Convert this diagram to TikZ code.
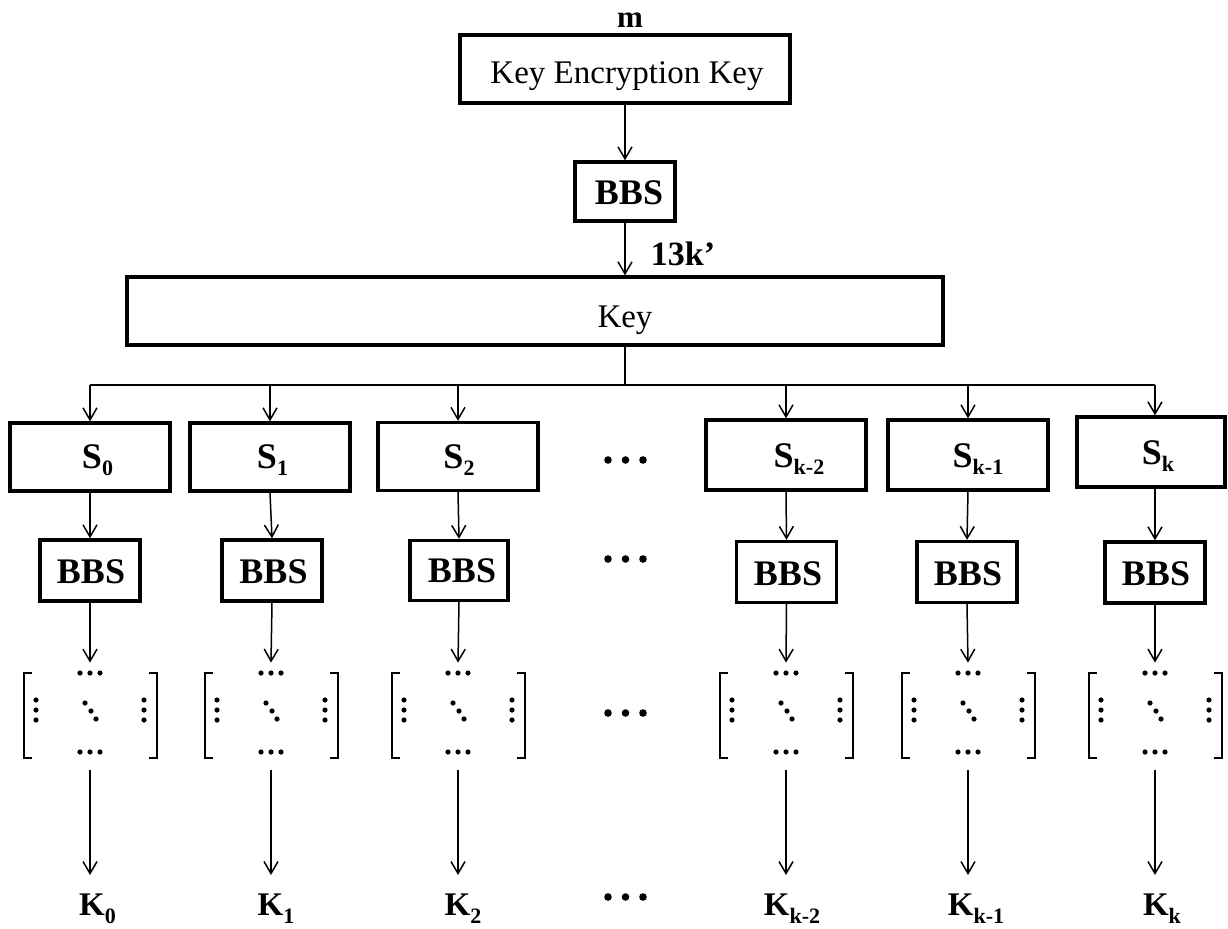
\documentclass[tikz,border=0pt]{standalone}
\usepackage{fontspec}
\setmainfont{Liberation Serif}
\usetikzlibrary{arrows.meta}
\newcommand\subS[1]{\raisebox{-3.5pt}{\fontsize{11}{11}\selectfont\bfseries #1}}
\newcommand\subK[1]{\raisebox{-4pt}{\fontsize{11}{11}\selectfont\bfseries #1}}
\newcommand\matdraw[1]{%
  \begin{scope}[shift={(#1,0)}]
    \draw[brk] (-58,673) -- (-66,673) -- (-66,758) -- (-58,758);
    \draw[brk] (59,673) -- (67,673) -- (67,758) -- (59,758);
    \foreach \dx in {-10,0,10}{\fill (\dx,673) circle (1.3pt); \fill (\dx,752) circle (1.3pt);}
    \foreach \dy in {700,710,720}{\fill (-54,\dy) circle (1.3pt); \fill (54,\dy) circle (1.3pt);}
    \fill (-5,703) circle (1.3pt) (1,711) circle (1.3pt) (6,719) circle (1.3pt);
  \end{scope}}
\newcommand\sepdots[1]{%
  \fill (608,#1) circle (1.9pt) (625.5,#1) circle (1.9pt) (643,#1) circle (1.9pt);}
\begin{document}
\begin{tikzpicture}[x=0.5pt,y=-0.5pt,
  box/.style={draw, line width=1.7pt, inner sep=0pt},
  arr/.style={-{Straight Barb[length=6pt,width=7pt]}, line width=0.75pt},
  wire/.style={line width=0.85pt},
  brk/.style={line width=1.1pt},
  lab/.style={anchor=base, inner sep=0pt, font=\fontsize{18}{18}\selectfont\bfseries},
  klab/.style={anchor=base, inner sep=0pt, font=\fontsize{16.5}{17}\selectfont\bfseries},
  plain/.style={anchor=base, inner sep=0pt, font=\fontsize{16.5}{17}\selectfont},
  matn/.style={inner sep=0pt, minimum width=68.5pt, minimum height=53.5pt}]
\useasboundingbox (0,0) rectangle (1228,928);

% top part
\node[anchor=base, inner sep=0pt, font=\fontsize{15.5}{16}\selectfont\bfseries] (mlab) at (630,27) {m};
\node[box, minimum width=165pt, minimum height=34pt] (kek) at (625,69) {};
\node[plain] (keklab) at (627,83) {Key Encryption Key};
\node[box, minimum width=50pt, minimum height=29.5pt] (bbstop) at (625,191.5) {};
\node[lab] (bbstoplab) at (629,204) {BBS};
\node[anchor=base, inner sep=0pt, font=\fontsize{17}{17}\selectfont\bfseries] (klen) at (683,265) {13k’};
\node[box, minimum width=408pt, minimum height=34pt] (key) at (535,311) {};
\node[plain] (keylab) at (625,327) {Key};

\draw[arr] (kek.south) -- (bbstop.north);
\draw[arr] (bbstop.south) -- (bbstop.south |- key.north);
\coordinate (bus) at (625,385);
\draw[wire] (bbstop.south |- key.south) -- (bus);

% S boxes
\node[box, minimum width=80pt, minimum height=34pt] (s0) at (90,457) {};
\node[box, minimum width=80pt, minimum height=34pt] (s1) at (270,457) {};
\node[box, minimum width=80pt, minimum height=34pt] (s2) at (458,456.5) {};
\node[box, minimum width=80pt, minimum height=35pt] (s3) at (786,455) {};
\node[box, minimum width=80pt, minimum height=35pt] (s4) at (968,455) {};
\node[box, minimum width=74pt, minimum height=35pt] (s5) at (1151,452) {};
\node[lab] at (97.5,468) {S\subS{0}};
\node[lab] at (272.5,468) {S\subS{1}};
\node[lab] at (459,468) {S\subS{2}};
\node[lab] at (799,467) {S\subS{k-2}};
\node[lab] at (978,467) {S\subS{k-1}};
\node[lab] at (1158,464) {S\subS{k}};

% bus
\coordinate (b0) at (90,385);
\coordinate (b1) at (270,385);
\coordinate (b2) at (458,385);
\coordinate (b3) at (786,385);
\coordinate (b4) at (968,385);
\coordinate (b5) at (1155,385);
\draw[wire] (b0) -- (b5);
\foreach \i in {0,...,5}{\draw[arr] (b\i) -- (b\i |- s\i.north);}

% BBS boxes
\node[box, minimum width=50pt, minimum height=30.5pt] (r0) at (90,570.5) {};
\node[box, minimum width=50pt, minimum height=30.5pt] (r1) at (272,570.5) {};
\node[box, minimum width=49pt, minimum height=30pt] (r2) at (459,570.5) {};
\node[box, minimum width=50pt, minimum height=30.5pt] (r3) at (786.5,572) {};
\node[box, minimum width=50pt, minimum height=30.5pt] (r4) at (967,572) {};
\node[box, minimum width=50pt, minimum height=30.5pt] (r5) at (1155,572.5) {};
\node[lab] at (91,583) {BBS};
\node[lab] at (273.5,583) {BBS};
\node[lab] at (462,582) {BBS};
\node[lab] at (788,585) {BBS};
\node[lab] at (968,585) {BBS};
\node[lab] at (1156,585) {BBS};

\draw[arr] (s0.south) -- (r0.north);
\draw[arr] (s1.south) -- (r1.north);
\draw[arr] (s2.south) -- (r2.north);
\draw[arr] (s3.south) -- (r3.north);
\draw[arr] (s4.south) -- (r4.north);
\draw[arr] ([xshift=2pt]s5.south) -- (r5.north);

% matrices
\node[matn] (m0) at (90,716.5) {};
\node[matn] (m1) at (271,716.5) {};
\node[matn] (m2) at (458,716.5) {};
\node[matn] (m3) at (786,716.5) {};
\node[matn] (m4) at (968,716.5) {};
\node[matn] (m5) at (1155,716.5) {};
\matdraw{90}
\matdraw{271}
\matdraw{458}
\matdraw{786}
\matdraw{968}
\matdraw{1155}
\foreach \i in {0,...,5}{\draw[arr] (r\i.south) -- (m\i.north);}

% K labels
\node[klab] (k0) at (97.5,915) {K\subK{0}};
\node[klab] (k1) at (276,915) {K\subK{1}};
\node[klab] (k2) at (463,915) {K\subK{2}};
\node[klab] (k3) at (792,915) {K\subK{k-2}};
\node[klab] (k4) at (976,915) {K\subK{k-1}};
\node[klab] (k5) at (1162,915) {K\subK{k}};
\foreach \i in {0,...,5}{\draw[arr] (m\i.south) -- ([yshift=9pt]m\i.south |- k\i.north);}

% separator dots
\sepdots{460}
\sepdots{559}
\sepdots{713}
\sepdots{897}
\end{tikzpicture}
\end{document}
